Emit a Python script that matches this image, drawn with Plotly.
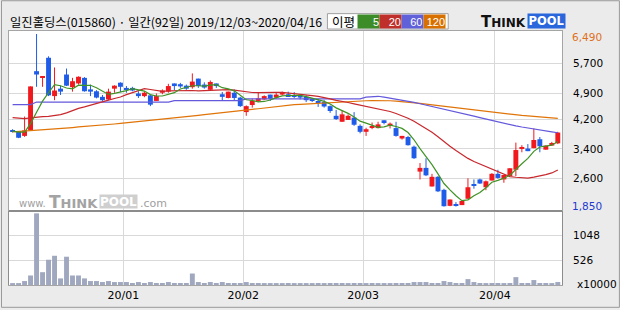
import plotly.graph_objects as go

# ---------------- data ----------------
opens = [3900, 3868, 3750, 3900, 5490, 5310, 5850, 4820, 5020, 5400,
         5060, 5160, 5310, 5000, 4950, 4800, 4730, 5020, 5180, 5040,
         5040, 4890, 4820, 4840, 4690, 4910, 4940, 5160, 5140, 5100,
         5060, 5290, 5130, 4990, 5160, 4870, 4770, 4910, 4780, 4390,
         4580, 4690, 4730, 4860, 4780, 4860, 4870, 4840, 4840, 4800,
         4750, 4680, 4660, 4550, 4290, 4130, 4180, 4240, 4020, 3860,
         3970, 3960, 4170, 4030, 3960, 3680, 3720, 3460, 2790, 2890,
         2390, 2650, 2300, 1870, 1910, 1890, 2060, 2440, 2580, 2370,
         2550, 2730, 2580, 2670, 2840, 3400, 3410, 3420, 3660, 3380,
         3490, 3550]
highs = [3930, 3880, 4270, 5080, 6490, 5360, 5890, 5590, 5100, 5560,
         5310, 5350, 5330, 5130, 4980, 4850, 5020, 5110, 5190, 5090,
         5070, 4950, 4950, 4850, 4890, 5000, 5150, 5160, 5175, 5130,
         5430, 5290, 5190, 5240, 5160, 4930, 4940, 5000, 4800, 4570,
         4750, 4910, 4840, 4860, 4910, 4940, 4940, 4930, 4870, 4840,
         4770, 4750, 4710, 4570, 4450, 4440, 4330, 4390, 4060, 3970,
         4110, 4130, 4170, 4110, 4130, 3750, 3750, 3490, 3020, 3150,
         2730, 2670, 2330, 2040, 1970, 2010, 2610, 2580, 2600, 2550,
         2750, 2840, 2700, 2880, 3570, 3500, 3530, 3950, 3720, 3490,
         3590, 3860]
lows = [3840, 3690, 3725, 3900, 5070, 5070, 4820, 4710, 4850, 5090,
        4940, 5130, 4940, 4820, 4760, 4690, 4710, 4910, 4930, 4910,
        4950, 4770, 4790, 4550, 4690, 4870, 4910, 4980, 5040, 4990,
        5020, 5040, 5020, 4980, 5040, 4690, 4760, 4710, 4530, 4290,
        4510, 4660, 4710, 4690, 4750, 4840, 4800, 4770, 4730, 4660,
        4660, 4530, 4510, 4370, 4180, 4130, 4180, 4020, 3820, 3750,
        3930, 3950, 4060, 3950, 3730, 3650, 3490, 3130, 2580, 2670,
        2390, 2240, 1850, 1860, 1850, 1890, 2060, 2330, 2460, 2290,
        2550, 2600, 2490, 2670, 2670, 3310, 3340, 3420, 3310, 3380,
        3490, 3530]
closes = [3860, 3700, 3900, 5080, 5400, 5340, 4840, 4970, 4940, 5100,
          5220, 5340, 4950, 4940, 4780, 4710, 4940, 5100, 5070, 5010,
          4970, 4820, 4910, 4590, 4820, 4970, 5090, 5090, 5080, 5020,
          5210, 5090, 5050, 5200, 5090, 4800, 4940, 4770, 4550, 4550,
          4700, 4760, 4820, 4750, 4860, 4930, 4820, 4800, 4780, 4710,
          4700, 4660, 4540, 4420, 4200, 4330, 4290, 4050, 3860, 3930,
          4000, 4060, 4120, 4080, 3750, 3750, 3500, 3150, 2890, 2690,
          2650, 2260, 1860, 2040, 1890, 2000, 2370, 2420, 2470, 2530,
          2730, 2620, 2700, 2880, 3370, 3440, 3340, 3640, 3470, 3490,
          3560, 3840]
volumes = [20, 20, 84, 202, 1520, 272, 536, 620, 140, 600,
           202, 202, 140, 84, 84, 63, 84, 63, 63, 63,
           42, 63, 42, 63, 42, 42, 63, 42, 42, 42,
           244, 63, 42, 63, 42, 63, 42, 42, 42, 63,
           42, 42, 21, 21, 21, 21, 42, 21, 21, 21,
           21, 42, 21, 42, 42, 42, 21, 42, 42, 21,
           42, 21, 21, 21, 42, 42, 42, 63, 63, 63,
           42, 42, 84, 63, 42, 42, 125, 63, 42, 21,
           42, 42, 21, 42, 167, 42, 42, 105, 42, 42,
           21, 63]
ma5_head = [3880, 3850, 3850, 4080]
ma20_head = [4241, 4224, 4215, 4232, 4259, 4268, 4277, 4303, 4321, 4370,
             4440, 4490, 4530, 4570, 4620, 4665, 4710, 4755, 4795]
ma60 = [4590, 4590, 4590, 4590, 4660, 4660, 4660, 4660, 4660, 4660,
        4660, 4660, 4660, 4660, 4660, 4650, 4650, 4650, 4650, 4650,
        4650, 4660, 4660, 4660, 4660, 4660, 4660, 4700, 4700, 4700,
        4700, 4700, 4700, 4700, 4700, 4700, 4700, 4700, 4700, 4745,
        4745, 4745, 4745, 4745, 4745, 4745, 4745, 4745, 4745, 4745,
        4745, 4745, 4745, 4745, 4745, 4745, 4745, 4745, 4745, 4790,
        4805, 4815, 4790, 4765, 4740, 4710, 4680, 4650, 4615, 4580,
        4545, 4510, 4475, 4440, 4400, 4360, 4320, 4280, 4240, 4200,
        4160, 4120, 4085, 4050, 4020, 3990, 3960, 3935, 3910, 3885,
        3860, 3835]
ma120 = [3860, 3870, 3880, 3890, 3900, 3915, 3925, 3935, 3950, 3960,
         3975, 3990, 4000, 4015, 4025, 4040, 4055, 4070, 4085, 4100,
         4115, 4130, 4145, 4160, 4175, 4195, 4210, 4225, 4245, 4260,
         4280, 4300, 4320, 4340, 4355, 4375, 4395, 4410, 4430, 4450,
         4465, 4480, 4500, 4515, 4535, 4560, 4580, 4590, 4600, 4610,
         4620, 4635, 4645, 4655, 4660, 4665, 4670, 4680, 4690, 4695,
         4700, 4705, 4700, 4695, 4685, 4675, 4660, 4645, 4625, 4605,
         4585, 4565, 4545, 4525, 4505, 4485, 4465, 4445, 4425, 4405,
         4385, 4365, 4345, 4325, 4310, 4300, 4290, 4280, 4268, 4255,
         4240, 4220]
month_labels = ["20/01", "20/02", "20/03", "20/04"]
month_first_index = [19, 39, 59, 81]
price_ticks = [5700, 4900, 4200, 3400, 2600]
price_max, price_min = 6490, 1850
volume_ticks = [526, 1048]
title_text = "일진홀딩스(015860) · 일간(92일) 2019/12/03~2020/04/16"

# ---------------- styles ----------------
W, H = 620, 310
ML, MR, MT, MB = 8, 58, 31, 23
UP, DOWN = "#f0191e", "#1f5ce8"
C5, C20, C60, C120 = "#3f9324", "#c8282d", "#6458dc", "#e07408"
LEG5, LEG20, LEG60, LEG120 = "#3c8c28", "#c0302a", "#6060d8", "#d87000"
VOLC = "#a0a8c0"
GRID = "#d9d9d9"
BORDER = "#a5a5a5"


def px(xp):
    return (xp - ML) / (W - ML - MR)


def py(yp):
    return (H - MB - yp) / (H - MT - MB)


def rolling(vals, w, head):
    out = list(head)
    for i in range(len(head), len(vals)):
        out.append(sum(vals[i - w + 1:i + 1]) / w)
    return out


n = len(closes)
xs = list(range(n))
ma5 = rolling(closes, 5, ma5_head)
ma20 = rolling(closes, 20, ma20_head)

is_up = [c >= o for o, c in zip(opens, closes)]
body_base = [min(o, c) for o, c in zip(opens, closes)]
body_h = [max(abs(c - o), 28) for o, c in zip(opens, closes)]
body_col = [UP if u else DOWN for u in is_up]

fig = go.Figure()


def wicks(up):
    wx, wy = [], []
    for i in range(n):
        if is_up[i] == up:
            wx += [i, i, None]
            wy += [lows[i], highs[i], None]
    return wx, wy


for up, col in [(True, UP), (False, DOWN)]:
    wx, wy = wicks(up)
    fig.add_trace(go.Scatter(x=wx, y=wy, mode="lines", line=dict(color=col, width=1),
                             xaxis="x", yaxis="y", hoverinfo="skip"))

fig.add_trace(go.Bar(x=xs, y=body_h, base=body_base, marker=dict(color=body_col, line=dict(width=0)),
                     width=0.82, xaxis="x", yaxis="y"))

for vals, col in [(ma120, C120), (ma60, C60), (ma20, C20), (ma5, C5)]:
    fig.add_trace(go.Scatter(x=xs, y=vals, mode="lines", line=dict(color=col, width=1.2),
                             xaxis="x", yaxis="y"))

fig.add_trace(go.Bar(x=xs, y=volumes, marker=dict(color=VOLC, line=dict(width=0)),
                     width=0.82, xaxis="x2", yaxis="y2"))

grid_x = [i - 0.5 for i in month_first_index]
split = py(212.5)

common_x = dict(range=[-0.6, n - 0.3], tickvals=grid_x, showgrid=True, gridcolor=GRID,
                gridwidth=1, zeroline=False, showline=True, linecolor=BORDER, mirror=True, ticks="")

fig.update_layout(
    width=W, height=H, margin=dict(l=ML, r=MR, t=MT, b=MB),
    paper_bgcolor="#ebebeb", plot_bgcolor="white", showlegend=False, barmode="overlay",
    font=dict(family="DejaVu Sans", size=10.5, color="black"),
    xaxis=dict(domain=[0, 1], anchor="y", showticklabels=False, **common_x),
    yaxis=dict(domain=[split, 1], anchor="x", side="right", range=[1729, 6570],
               tickvals=price_ticks, ticktext=[f"{v:,}" for v in price_ticks],
               showgrid=True, gridcolor=GRID, zeroline=False, showline=True,
               linecolor=BORDER, mirror=True, ticks="", ticklabelstandoff=8),
    xaxis2=dict(domain=[0, 1], anchor="y2", matches="x", ticktext=month_labels,
                tickfont=dict(size=11), **common_x),
    yaxis2=dict(domain=[0, split], anchor="x2", side="right", range=[0, 1568],
                tickvals=volume_ticks, ticktext=[str(v) for v in volume_ticks],
                showgrid=True, gridcolor=GRID, zeroline=False, showline=True,
                linecolor="#8c8c8c", mirror=True, ticks="", ticklabelstandoff=8),
)

ann = []
ann.append(dict(xref="paper", yref="y", x=1, y=price_max, xanchor="left", yanchor="middle",
                xshift=8, yshift=-3, text=f"{price_max:,}", showarrow=False,
                font=dict(color="#e07020", size=10.5)))
ann.append(dict(xref="paper", yref="y", x=1, y=price_min, xanchor="left", yanchor="middle",
                xshift=8, yshift=1, text=f"{price_min:,}", showarrow=False,
                font=dict(color="#1c3ad0", size=10.5)))
ann.append(dict(xref="paper", yref="paper", x=px(575), y=py(286), xanchor="left", yanchor="middle",
                text="x10000", showarrow=False, font=dict(size=10.5)))
ann.append(dict(xref="paper", yref="paper", x=px(7), y=py(21.5), xanchor="left", yanchor="middle",
                text=title_text, showarrow=False,
                font=dict(family="Noto Sans CJK KR", size=12.3, color="black")))
# MA legend
ann.append(dict(xref="paper", yref="paper", x=px(343), y=py(21), xanchor="center", yanchor="middle",
                text="이평", showarrow=False, font=dict(family="Noto Sans CJK KR", size=12.5)))
for label, col, x0, x1 in [("5", LEG5, 358, 379), ("20", LEG20, 380, 401),
                           ("60", LEG60, 402, 422.5), ("120", LEG120, 424, 445)]:
    ann.append(dict(xref="paper", yref="paper", x=px((x0 + x1) / 2), y=py(21.3),
                    xanchor="center", yanchor="middle", text=label, showarrow=False,
                    width=x1 - x0, height=13, align="right", bgcolor=col, borderpad=0,
                    font=dict(family="Liberation Sans", color="white", size=11)))
# THINKPOOL logo
ann.append(dict(xref="paper", yref="paper", x=px(528), y=py(22), xanchor="right", yanchor="middle",
                text="<b><span style='font-size:15px'>T</span>HINK</b>", showarrow=False,
                font=dict(family="DejaVu Sans", size=12, color="#111111")))
ann.append(dict(xref="paper", yref="paper", x=px(546.5), y=py(21.3), xanchor="center", yanchor="middle",
                text="<b>POOL</b>", showarrow=False, width=37, height=14, bgcolor="#2a66dc",
                borderpad=0, font=dict(family="DejaVu Sans", size=11.5, color="white")))
# watermark
ann.append(dict(xref="paper", yref="paper", x=px(47), y=py(205), xanchor="right", yanchor="middle",
                text="www.", showarrow=False, font=dict(size=10, color="#a0a0a0")))
ann.append(dict(xref="paper", yref="paper", x=px(46), y=py(203), xanchor="left", yanchor="middle",
                text="<b><span style='font-size:17px'>T</span>HINK</b>", showarrow=False,
                font=dict(size=13, color="#a3a3a3")))
ann.append(dict(xref="paper", yref="paper", x=px(118), y=py(203), xanchor="center", yanchor="middle",
                text="<b>POOL</b>", showarrow=False, width=37, height=13, bgcolor="#cfcfcf",
                borderpad=0, font=dict(size=12, color="white")))
ann.append(dict(xref="paper", yref="paper", x=px(137), y=py(205), xanchor="left", yanchor="middle",
                text=".com", showarrow=False, font=dict(size=11, color="#a0a0a0")))
fig.update_layout(annotations=ann)

shapes = [
    dict(type="rect", xref="paper", yref="paper", x0=px(327), x1=px(448), y0=py(29), y1=py(13.5),
         line=dict(color="#a0a0a0", width=1), fillcolor="white", layer="below"),
    dict(type="line", xref="paper", yref="paper", x0=0, x1=1, y0=split, y1=split,
         line=dict(color="#8c8c8c", width=2)),
    dict(type="rect", xref="paper", yref="paper", x0=px(0.5), x1=px(619.5), y0=py(309.5), y1=py(0.5),
         line=dict(color="#9a9a9a", width=1), layer="below"),
]
fig.update_layout(shapes=shapes)

fig.write_html("out.html")
